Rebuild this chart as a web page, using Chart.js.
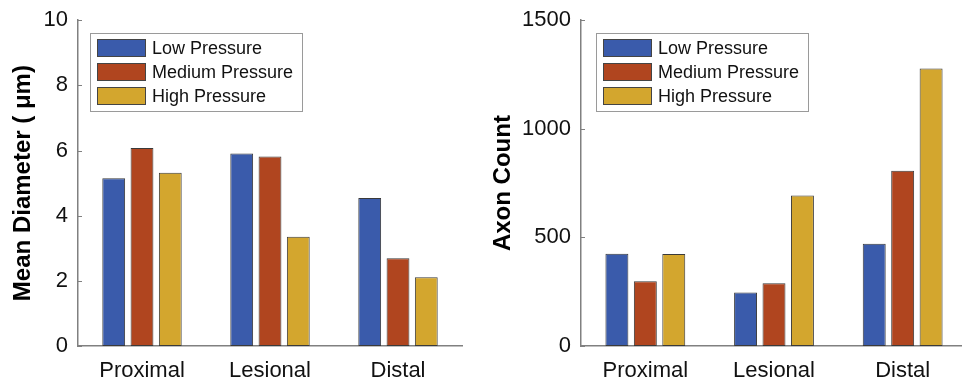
<!DOCTYPE html>
<html>
<head>
<meta charset="utf-8">
<script src="https://cdn.jsdelivr.net/npm/chart.js@4"></script>
<style>
  html, body { margin: 0; padding: 0; background: #fff; overflow: hidden; }
  #left { position: absolute; left: 0; top: -3px; width: 481px; height: 383px; }
  #right { position: absolute; left: 480px; top: -3px; width: 487px; height: 383px; }
</style>
</head>
<body>
<div id="left"><canvas id="diameterChart"></canvas></div>
<div id="right"><canvas id="countChart"></canvas></div>
<script>
// Data
const regions = ['Proximal', 'Lesional', 'Distal'];
const seriesNames = ['Low Pressure', 'Medium Pressure', 'High Pressure'];
const seriesColors = ['#3a5bab', '#b0451f', '#d3a62e'];

const diameterLow = [5.15, 5.91, 4.54];
const diameterMedium = [6.08, 5.82, 2.69];
const diameterHigh = [5.32, 3.35, 2.11];
const diameterTicks = [0, 2, 4, 6, 8, 10];

const countLow = [425, 246, 471];
const countMedium = [298, 289, 807];
const countHigh = [424, 693, 1278];
const countTicks = [0, 500, 1000, 1500];

const FONT = '"Liberation Sans", Arial, Helvetica, sans-serif';

// Legend box drawn inside the plot area (MATLAB style)
const insideLegend = {
    id: 'insideLegend',
    afterDraw(chart, args, opts) {
        const ctx = chart.ctx;
        const area = chart.chartArea;
        const x = Math.round(area.left + opts.dx);
        const y = Math.round(area.top + opts.dy);
        ctx.save();
        ctx.fillStyle = '#fff';
        ctx.fillRect(x, y, opts.width, opts.height);
        ctx.strokeStyle = '#9a9a9a';
        ctx.lineWidth = 1;
        ctx.strokeRect(x + 0.5, y + 0.5, opts.width, opts.height);
        ctx.font = '18px ' + FONT;
        ctx.textBaseline = 'middle';
        chart.data.datasets.forEach((ds, i) => {
            const cy = y + 15 + i * 24;
            ctx.fillStyle = ds.backgroundColor;
            ctx.fillRect(x + 7, cy - 9, 49, 18);
            ctx.strokeStyle = '#444';
            ctx.strokeRect(x + 7.5, cy - 8.5, 48, 17);
            ctx.fillStyle = '#111';
            ctx.fillText(ds.label, x + 62, cy + 1);
        });
        ctx.restore();
    }
};

// Small inward tick marks on the y axis
const innerTicks = {
    id: 'innerTicks',
    afterDraw(chart) {
        const ctx = chart.ctx;
        const y = chart.scales.y;
        const left = chart.chartArea.left;
        ctx.save();
        ctx.strokeStyle = '#808080';
        ctx.lineWidth = 1;
        y.ticks.forEach((t, i) => {
            const py = Math.round(y.getPixelForTick(i)) + 0.5;
            ctx.beginPath();
            ctx.moveTo(left, py);
            ctx.lineTo(left + 4, py);
            ctx.stroke();
        });
        ctx.restore();
    }
};

function makeChart(id, series, ticks, title, yWidth, padRight, legendDx) {
    const ctx = document.getElementById(id).getContext('2d');
    return new Chart(ctx, {
        type: 'bar',
        data: {
            labels: regions,
            datasets: series.map((values, i) => ({
                label: seriesNames[i],
                data: values,
                backgroundColor: seriesColors[i],
                borderColor: '#3a3a3a',
                borderWidth: 1,
                borderSkipped: false,
                categoryPercentage: 0.663,
                barPercentage: 0.807
            }))
        },
        options: {
            responsive: true,
            maintainAspectRatio: false,
            animation: false,
            layout: { padding: { top: 16, right: padRight, left: 0, bottom: 0 } },
            plugins: {
                legend: { display: false },
                tooltip: { enabled: false },
                insideLegend: { dx: legendDx, dy: 13, width: 212, height: 78 }
            },
            scales: {
                x: {
                    grid: { display: false, drawTicks: false },
                    border: { color: '#808080', width: 1.5 },
                    ticks: { color: '#111', padding: 12, font: { family: FONT, size: 22 } },
                    afterFit: s => { s.height = 34; }
                },
                y: {
                    min: ticks[0],
                    max: ticks[ticks.length - 1],
                    afterBuildTicks: s => { s.ticks = ticks.map(v => ({ value: v })); },
                    grid: { display: false, drawTicks: false },
                    border: { color: '#808080', width: 1.5 },
                    ticks: {
                        color: '#111',
                        padding: 10,
                        font: { family: FONT, size: 22 },
                        callback: v => String(v)
                    },
                    title: {
                        display: true,
                        text: title,
                        color: '#000',
                        padding: { top: 9, bottom: 0 },
                        font: { family: FONT, size: 24, weight: 'bold' }
                    },
                    afterFit: s => { s.width = yWidth; }
                }
            }
        },
        plugins: [insideLegend, innerTicks]
    });
}

makeChart('diameterChart', [diameterLow, diameterMedium, diameterHigh], diameterTicks,
    'Mean Diameter ( \u03bcm)', 78, 19, 12);
makeChart('countChart', [countLow, countMedium, countHigh], countTicks,
    'Axon Count', 101, 0, 15);
</script>
</body>
</html>
